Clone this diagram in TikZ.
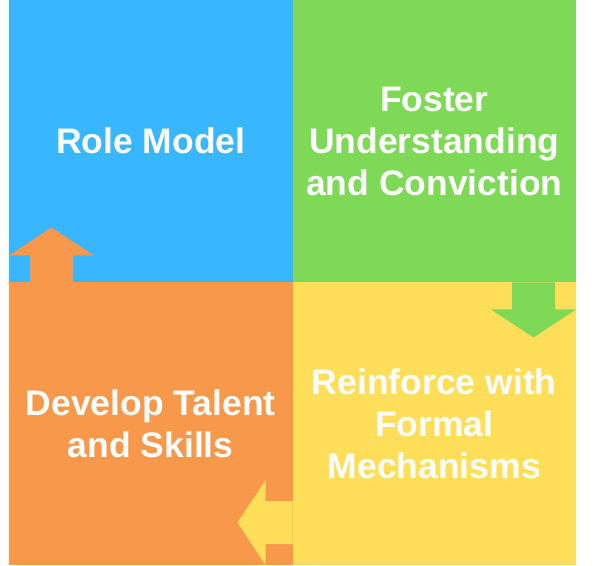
\documentclass[tikz,border=0pt]{standalone}
\usepackage{fontspec}
\setmainfont{Liberation Sans}
\usepackage{tikz}
\usetikzlibrary{positioning,calc}
\definecolor{roleblue}{HTML}{38B6FF}
\definecolor{fostergreen}{HTML}{7ED957}
\definecolor{developorange}{HTML}{F7984A}
\definecolor{reinforceyellow}{HTML}{FFDE59}

\begin{document}
\begin{tikzpicture}[x=1pt,y=1pt,node distance=0pt,
    quad/.style={minimum width=283.5pt,minimum height=282.5pt,inner sep=0pt,outer sep=0pt,
        text=white,align=center,font=\fontsize{35.5}{42}\selectfont\bfseries}]
    \useasboundingbox (0,0) rectangle (593,565);
    \node[quad,fill=developorange,anchor=south west] (develop) at (9,0) {Develop Talent\\and Skills};
    \node[quad,fill=roleblue,above=of develop] (role) {Role Model};
    \node[quad,fill=fostergreen,right=of role] (foster) {Foster\\Understanding\\and Conviction};
    \node[quad,fill=reinforceyellow,right=of develop] (reinforce) {Reinforce with\\Formal\\Mechanisms};
    \fill[developorange] ($(develop.north west)+(21,0)$) -- ++(0,27) -- ($(develop.north west)+(0,27)$)
        -- ++(42.5,28) -- ++(42.5,-28) -- ++(-21,0) -- ++(0,-27) -- cycle;
    \fill[fostergreen] ($(reinforce.north east)+(-21,0)$) -- ++(0,-27) -- ++(21,0)
        -- ++(-42.5,-28) -- ++(-42.5,28) -- ++(21,0) -- ++(0,27) -- cycle;
    \fill[reinforceyellow] ($(develop.south east)+(0,21)$) -- ++(-27,0) -- ++(0,-21)
        -- ++(-28,42.5) -- ++(28,42.5) -- ++(0,-21) -- ++(27,0) -- cycle;
\end{tikzpicture}
\end{document}
